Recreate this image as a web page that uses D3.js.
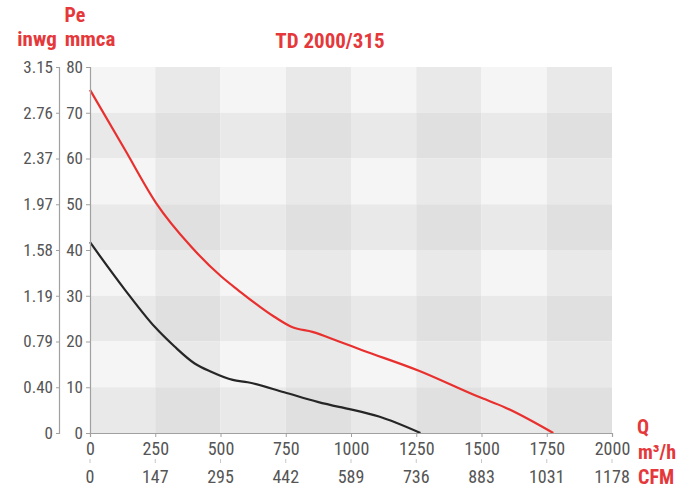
<!DOCTYPE html>
<html><head><meta charset="utf-8">
<script src="https://cdn.jsdelivr.net/npm/d3@7"></script>
<style>
html,body{margin:0;padding:0;background:#fff;}
svg{display:block;}
text{font-family:"Liberation Sans Narrow","Arial Narrow","Roboto Condensed","Liberation Sans",sans-serif;}
</style></head>
<body>
<script>
const title = "TD 2000/315";
const flowTicks = [0,250,500,750,1000,1250,1500,1750,2000];
const cfmLabels = ["0","147","295","442","589","736","883","1031","1178"];
const pressureTicks = [0,10,20,30,40,50,60,70,80];
const inwgLabels = ["0","0.40","0.79","1.19","1.58","1.97","2.37","2.76","3.15"];
const redFlow = [0,134,254,388,503,566,706,776,852,954,1043,1260,1489,1590,1775];
const redPressure = [75,61.9,50.2,40.7,34.2,31.3,25.4,23.1,22.1,20.0,18.1,13.6,7.9,5.6,0];
const blackFlow = [0,134,248,324,401,464,547,604,744,872,954,1012,1107,1266];
const blackPressure = [41.7,31.3,23.2,18.9,15.2,13.4,11.6,11.1,8.9,6.8,5.7,5.0,3.6,0];

const W=699,H=493;
const red="#e5383b", grey="#555", axisC="#a0a0a0";
const svg=d3.select("body").append("svg").attr("width",W).attr("height",H);
const x=d3.scaleLinear().domain([0,2000]).range([90,612]);
const y=d3.scaleLinear().domain([0,80]).range([433,67]);

// checkerboard background
const cols=d3.range(8), rows=d3.range(8);
const shade=[["#f5f5f5","#e9e9e9"],["#e9e9e9","#e0e0e0"]];
rows.forEach(j=>cols.forEach(i=>{
  const top=80-j*10;
  svg.append("rect").attr("x",x(i*250)).attr("y",y(top))
    .attr("width",x((i+1)*250)-x(i*250)).attr("height",y(top-10)-y(top))
    .attr("fill",shade[j%2][i%2]);
}));

// curves
const line=d3.line().x(d=>x(d[0])).y(d=>y(d[1])).curve(d3.curveMonotoneX);
svg.append("path").attr("d",line(d3.zip(blackFlow,blackPressure)))
  .attr("fill","none").attr("stroke","#262626").attr("stroke-width",2.2);
svg.append("path").attr("d",line(d3.zip(redFlow,redPressure)))
  .attr("fill","none").attr("stroke","#e8302f").attr("stroke-width",2.2);

// mmca axis
const gy=svg.append("g").attr("transform","translate(90,0)")
  .call(d3.axisLeft(y).tickValues(pressureTicks).tickSize(4).tickPadding(3).tickFormat(d3.format("d")));
// inwg axis
const yIn=d3.scaleLinear().domain([0,8]).range([433,67]);
const gi=svg.append("g").attr("transform","translate(59,0)")
  .call(d3.axisLeft(yIn).tickValues(d3.range(9)).tickSize(3).tickPadding(3).tickFormat(i=>inwgLabels[i]));
// flow axis
const gx=svg.append("g").attr("transform","translate(0,433)")
  .call(d3.axisBottom(x).tickValues(flowTicks).tickSize(4).tickPadding(5).tickFormat(d3.format("d")));
[gy,gi,gx].forEach(g=>{
  g.select(".domain").attr("stroke",axisC).attr("stroke-width",1.2);
  g.selectAll(".tick line").attr("stroke",axisC);
  g.selectAll("text").attr("fill",grey).attr("font-size",17);
});
gi.select(".domain").attr("d","M-3,67.5H0.5V433.5H-3");
gx.selectAll("text").attr("font-size",18);
// CFM row
const xc=d3.scaleLinear().domain([0,8]).range([90,612]);
svg.append("g").selectAll("line").data(d3.range(9)).join("line")
  .attr("x1",i=>xc(i)).attr("x2",i=>xc(i)).attr("y1",459).attr("y2",463)
  .attr("stroke","#c8c8c8");
svg.append("g").selectAll("text").data(cfmLabels).join("text")
  .attr("x",(d,i)=>xc(i)).attr("y",483).attr("text-anchor","middle")
  .attr("fill",grey).attr("font-size",18).text(d=>d);

// red labels
const lab=(t,xx,yy,anchor,fs)=>svg.append("text").attr("x",xx).attr("y",yy)
  .attr("text-anchor",anchor).attr("fill",red).attr("font-weight","bold")
  .attr("font-size",fs).text(t);
lab(title,330,48,"middle",21);
lab("Pe",75,22,"middle",20);
lab("inwg",37,46,"middle",21);
lab("mmca",90,46,"middle",21);
lab("Q",643,434,"middle",20);
lab("m³/h",638,459,"start",20);
lab("CFM",638,484,"start",20);
</script>
</body></html>
